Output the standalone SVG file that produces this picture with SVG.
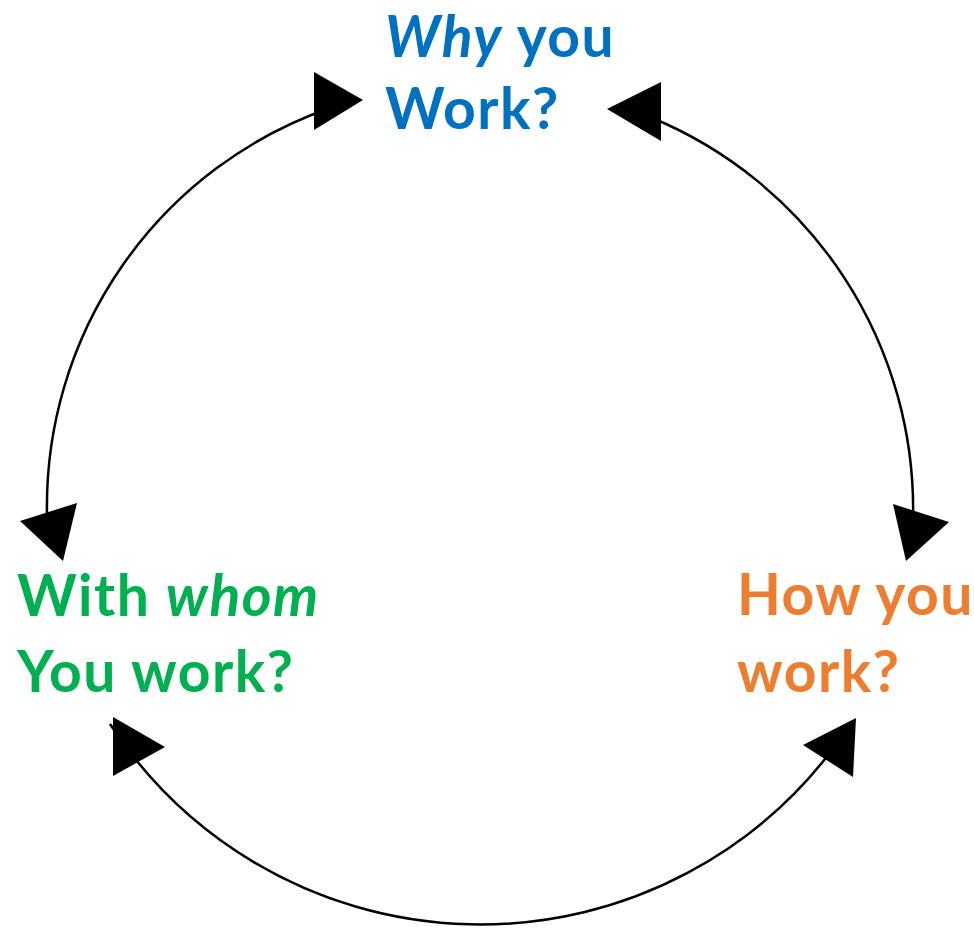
<svg xmlns="http://www.w3.org/2000/svg" width="974" height="938" viewBox="0 0 974 938">
<style>
  .lbl { font-family: Lato, "Liberation Sans", sans-serif; font-weight: bold; font-size: 57px; letter-spacing: 1.5px; }
  .it { font-style: italic; }
  .arc { fill: none; stroke: #000; stroke-width: 2.5; }
  .head { fill: #000; stroke: none; }
</style>
<rect width="974" height="938" fill="#fff"/>
<g id="connectors">
  <path class="arc" d="M 330,108 A 422 422 0 0 0 47,515"/>
  <path class="arc" d="M 650,117 A 424 424 0 0 1 913,520"/>
  <path class="arc" d="M 110,724 A 442 442 0 0 0 838,742"/>
  <polygon class="head" points="314,72 314,130 363,100"/>
  <polygon class="head" points="607,109 661,82 661,141"/>
  <polygon class="head" points="20,521 77,503 63,561"/>
  <polygon class="head" points="893,504 949,522 906,561"/>
  <polygon class="head" points="113,717 165,747 113,776"/>
  <polygon class="head" points="803,745 856,718 853,777"/>
</g>
<g id="why">
  <text class="lbl" fill="#0070C0" x="385" y="57"><tspan class="it">Why</tspan> you</text>
  <text class="lbl" fill="#0070C0" x="385" y="129">Work?</text>
</g>
<g id="whom">
  <text class="lbl" fill="#00B050" x="17" y="616">With <tspan class="it">whom</tspan></text>
  <text class="lbl" fill="#00B050" x="17" y="692">You work?</text>
</g>
<g id="how">
  <text class="lbl" fill="#ED7D31" x="737" y="615">How you</text>
  <text class="lbl" fill="#ED7D31" x="737" y="692">work?</text>
</g>
</svg>
